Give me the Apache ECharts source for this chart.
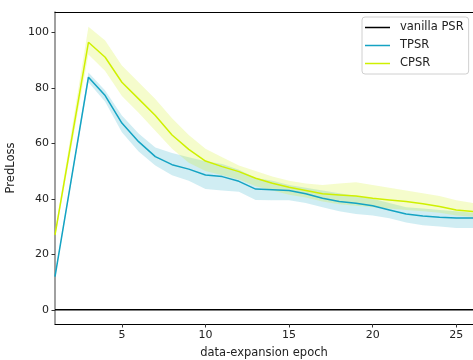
<!DOCTYPE html>
<html>
<head>
<meta charset="utf-8">
<script src="https://cdn.jsdelivr.net/npm/echarts@6/dist/echarts.min.js"></script>
<style>
  html, body { margin: 0; padding: 0; background: #fff; }
  #chart { width: 473px; height: 360px; }
</style>
</head>
<body>
<div id="chart"></div>
<script>
// Prediction loss per data-expansion epoch
const epochs = [1, 3, 4, 5, 6, 7, 8, 9, 10, 11, 12, 13, 14, 15, 16, 17, 18, 19, 20, 21, 22, 23, 24, 25, 26];

const vanillaPSR = [0, 0, 0, 0, 0, 0, 0, 0, 0, 0, 0, 0, 0, 0, 0, 0, 0, 0, 0, 0, 0, 0, 0, 0, 0];

const tpsrMean  = [12, 83.8, 77.2, 67.3, 60.6, 55.2, 52.3, 50.7, 48.6, 48.0, 46.3, 43.5, 43.3, 43.0, 41.8, 40.2, 39.0, 38.4, 37.5, 36.0, 34.5, 33.8, 33.4, 33.1, 33.1];
const tpsrUpper = [12.5, 85.5, 79, 70, 63.5, 58.5, 56.5, 55, 53.5, 52.5, 50.5, 47.5, 46.5, 45, 44, 43, 42, 41, 40, 38.5, 37, 36.5, 36, 35.5, 35];
const tpsrLower = [11.5, 82, 75, 64, 57, 52, 48.5, 46.5, 43.5, 43, 42.5, 39.6, 39.5, 39.5, 38.5, 37, 35.5, 34.5, 34, 33, 31.5, 30.5, 30, 29.5, 29.5];

const cpsrMean  = [27, 96.4, 91, 82, 76, 70, 63, 57.8, 53.6, 51.6, 49.8, 47.4, 45.6, 44.2, 43.0, 41.8, 41.4, 41.0, 40.2, 39.6, 39.0, 38.2, 37.2, 36.0, 35.4];
const cpsrUpper = [28, 102, 97, 88, 82, 76, 69, 63, 58, 55, 52, 50, 48, 46.5, 45.5, 45, 45.5, 46, 45, 44, 43, 42, 41, 39.5, 38.5];
const cpsrLower = [26, 92, 86, 77, 71, 64.5, 58, 53, 50, 48.5, 47, 44.5, 43, 41.5, 40.5, 39, 38, 37.5, 37, 36.5, 36, 35.5, 35, 34, 33.5];

const yTicks = [0, 20, 40, 60, 80, 100];
const xTicks = [5, 10, 15, 20, 25];

const TPSR_COLOR = '#14a3c3';
const CPSR_COLOR = '#cff000';
const TPSR_FILL = 'rgba(20,163,195,0.2)';
const CPSR_FILL = 'rgba(207,240,0,0.2)';
const FONT = 'DejaVu Sans';

const pairs = (ys) => epochs.map((x, i) => [x, ys[i]]);

// Shaded spread between lower and upper bound, drawn as one polygon
function band(name, lower, upper, fill) {
  const rows = epochs.map((x, i) => [x, lower[i], upper[i]]);
  return {
    name: name + ' band', type: 'custom', data: rows,
    encode: { x: 0, y: [1, 2] },
    silent: true, clip: true, animation: false,
    renderItem: function (params, api) {
      if (params.dataIndex !== 0) return null;
      const top = rows.map(r => api.coord([r[0], r[2]]));
      const bottom = rows.map(r => api.coord([r[0], r[1]])).reverse();
      return {
        type: 'polygon',
        shape: { points: top.concat(bottom) },
        style: { fill: fill, stroke: null }
      };
    }
  };
}

function line(name, ys, color) {
  return {
    name: name, type: 'line', data: pairs(ys), symbol: 'none',
    lineStyle: { color: color, width: 1.5 }, itemStyle: { color: color },
    animation: false
  };
}

const chart = echarts.init(document.getElementById('chart'), null, { renderer: 'canvas' });

chart.setOption({
  backgroundColor: '#fff',
  textStyle: { fontFamily: FONT },
  grid: { left: 55, right: 0, top: 12, bottom: 36, containLabel: false, outerBoundsMode: 'none' },
  legend: {
    orient: 'vertical',
    left: 362, top: 17,
    data: ['vanilla PSR', 'TPSR', 'CPSR'],
    icon: 'rect',
    itemWidth: 25, itemHeight: 1.5,
    itemGap: 5,
    padding: [4, 5, 4, 3],
    backgroundColor: '#fff',
    borderColor: '#d0d0d0', borderWidth: 1, borderRadius: 3,
    textStyle: { fontFamily: FONT, fontSize: 11.5, color: '#222', lineHeight: 13, padding: [0, 0, 0, 5] }
  },
  xAxis: [
    {
      type: 'value', min: 1, max: 26,
      name: 'data-expansion epoch', nameLocation: 'middle', nameGap: 23,
      nameTextStyle: { fontFamily: FONT, fontSize: 11.5, color: '#222' },
      axisLine: { show: true, onZero: false, lineStyle: { color: '#000', width: 1 } },
      axisTick: { show: true, length: 3.5, customValues: xTicks, lineStyle: { color: '#333' } },
      axisLabel: { customValues: xTicks, margin: 6, fontFamily: FONT, fontSize: 11, color: '#222' },
      splitLine: { show: false }
    },
    {
      type: 'value', min: 1, max: 26, position: 'top',
      axisLine: { show: true, onZero: false, lineStyle: { color: '#000', width: 1 } },
      axisTick: { show: false }, axisLabel: { show: false }, splitLine: { show: false }
    }
  ],
  yAxis: {
    type: 'value', min: -5.1, max: 107.3,
    name: 'PredLoss', nameLocation: 'middle', nameGap: 30, nameRotate: 90,
    nameTextStyle: { fontFamily: FONT, fontSize: 11.5, color: '#222' },
    axisLine: { show: true, onZero: false, lineStyle: { color: '#808080', width: 1.5 } },
    axisTick: { show: true, length: 3.5, customValues: yTicks, lineStyle: { color: '#333' } },
    axisLabel: { customValues: yTicks, margin: 6, fontFamily: FONT, fontSize: 11, color: '#222' },
    splitLine: { show: false }
  },
  series: [
    line('vanilla PSR', vanillaPSR, '#000'),
    band('TPSR', tpsrLower, tpsrUpper, TPSR_FILL),
    line('TPSR', tpsrMean, TPSR_COLOR),
    band('CPSR', cpsrLower, cpsrUpper, CPSR_FILL),
    line('CPSR', cpsrMean, CPSR_COLOR)
  ]
});
</script>
</body>
</html>
